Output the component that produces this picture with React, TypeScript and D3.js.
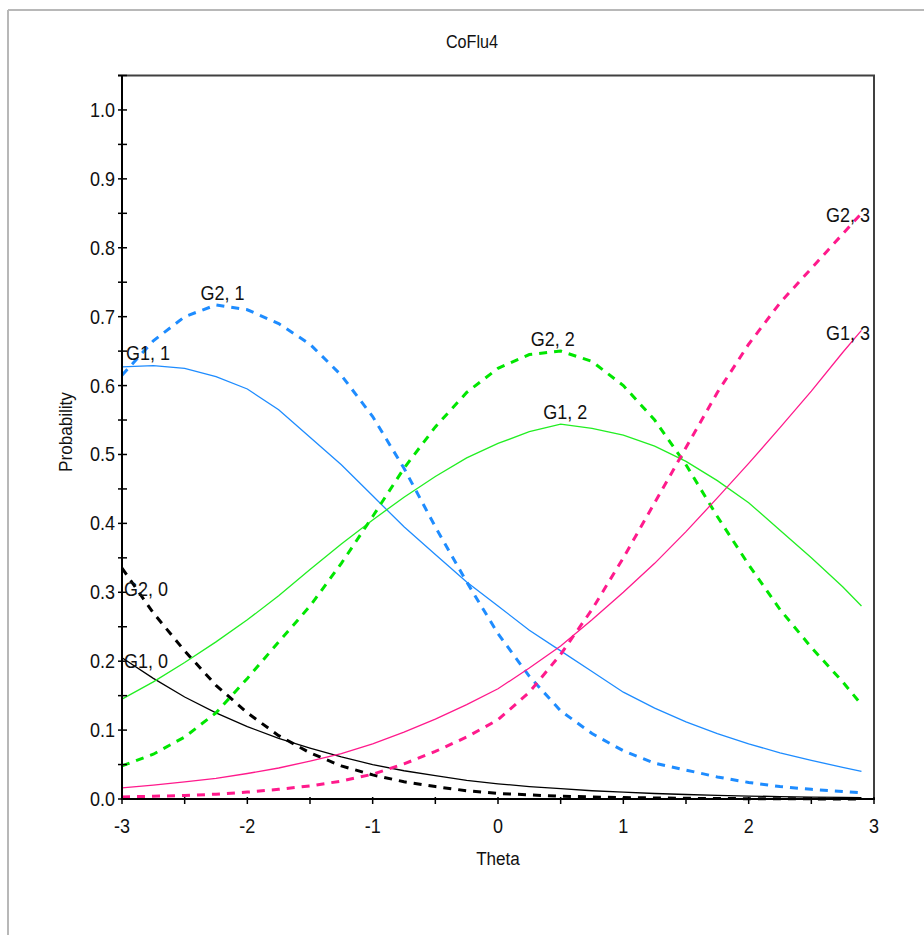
import React from "react";
import * as d3 from "d3";

const title = "CoFlu4";
const xLabel = "Theta";
const yLabel = "Probability";

const thetas = [-3, -2.75, -2.5, -2.25, -2, -1.75, -1.5, -1.25, -1, -0.75, -0.5, -0.25, 0, 0.25, 0.5, 0.75, 1, 1.25, 1.5, 1.75, 2, 2.25, 2.5, 2.75, 2.9];

const seriesNames = ["G1, 0", "G2, 0", "G1, 1", "G2, 1", "G1, 2", "G2, 2", "G1, 3", "G2, 3"];

const g1_0 = [0.205, 0.175, 0.148, 0.125, 0.105, 0.088, 0.074, 0.061, 0.05, 0.041, 0.034, 0.027, 0.022, 0.018, 0.015, 0.012, 0.01, 0.008, 0.0065, 0.0053, 0.0043, 0.0035, 0.0028, 0.0023, 0.002];
const g2_0 = [0.335, 0.27, 0.215, 0.165, 0.125, 0.092, 0.067, 0.048, 0.035, 0.025, 0.018, 0.012, 0.008, 0.006, 0.004, 0.003, 0.002, 0.0015, 0.001, 0.0007, 0.0005, 0.0003, 0.0002, 0.0001, 0.0001];
const g1_1 = [0.627, 0.629, 0.625, 0.613, 0.595, 0.565, 0.525, 0.485, 0.44, 0.395, 0.355, 0.315, 0.28, 0.245, 0.215, 0.185, 0.155, 0.132, 0.112, 0.095, 0.08, 0.067, 0.056, 0.046, 0.04];
const g2_1 = [0.615, 0.665, 0.7, 0.717, 0.71, 0.69, 0.66, 0.615, 0.555, 0.48, 0.395, 0.315, 0.24, 0.178, 0.128, 0.095, 0.07, 0.052, 0.042, 0.032, 0.024, 0.018, 0.014, 0.011, 0.009];
const g1_2 = [0.145, 0.17, 0.198, 0.228, 0.26, 0.295, 0.333, 0.37, 0.405, 0.438, 0.468, 0.495, 0.516, 0.533, 0.544, 0.538, 0.528, 0.512, 0.49, 0.462, 0.43, 0.39, 0.35, 0.308, 0.28];
const g2_2 = [0.048, 0.065, 0.09, 0.125, 0.175, 0.228, 0.28, 0.342, 0.41, 0.48, 0.54, 0.59, 0.625, 0.645, 0.65, 0.635, 0.6, 0.55, 0.485, 0.41, 0.34, 0.275, 0.22, 0.17, 0.137];
const g1_3 = [0.016, 0.02, 0.025, 0.03, 0.037, 0.045, 0.055, 0.066, 0.08, 0.097, 0.116, 0.137, 0.16, 0.19, 0.222, 0.26, 0.3, 0.342, 0.388, 0.437, 0.487, 0.539, 0.592, 0.648, 0.68];
const g2_3 = [0.003, 0.004, 0.005, 0.007, 0.01, 0.014, 0.019, 0.026, 0.036, 0.051, 0.069, 0.09, 0.115, 0.155, 0.21, 0.275, 0.35, 0.43, 0.51, 0.59, 0.66, 0.72, 0.77, 0.82, 0.85];

const seriesValues = [g1_0, g2_0, g1_1, g2_1, g1_2, g2_2, g1_3, g2_3];
const seriesColors = ["#000000", "#000000", "#1E8CFF", "#1E8CFF", "#22EE22", "#00E600", "#FF1A8C", "#FF1A8C"];
const seriesDashed = [false, true, false, true, false, true, false, true];

const yTickLabels = ["0.0", "0.1", "0.2", "0.3", "0.4", "0.5", "0.6", "0.7", "0.8", "0.9", "1.0"];
const xTickLabels = ["-3", "-2", "-1", "0", "1", "2", "3"];

const W = 924;
const H = 935;
const FONT = "'Liberation Sans', Arial, sans-serif";

function T(props: { x: number; y: number; anchor?: string; rotate?: number; size?: number; dy?: string; children: React.ReactNode }) {
  const { x, y, anchor = "middle", rotate = 0, size = 20, dy, children } = props;
  return (
    <text
      transform={`translate(${x},${y})${rotate ? ` rotate(${rotate})` : ""} scale(0.9,1)`}
      fontSize={size}
      textAnchor={anchor}
      dy={dy}
      fill="#111"
    >
      {children}
    </text>
  );
}

export default function App() {
  const x = d3.scaleLinear().domain([-3, 3]).range([122, 874]);
  const y = d3.scaleLinear().domain([0, 1.05]).range([799, 75.5]);
  const line = d3
    .line<number>()
    .x((_, i) => x(thetas[i]))
    .y((v) => y(v));

  const minorY = d3.range(0, 1.05 + 1e-9, 0.05);
  const minorX = d3.range(-3, 3 + 1e-9, 0.5);

  const labelW = 48;
  const interp = (vals: number[], t: number) => {
    for (let i = 0; i < thetas.length - 1; i++) {
      if (t >= thetas[i] && t <= thetas[i + 1]) {
        const f = (t - thetas[i]) / (thetas[i + 1] - thetas[i]);
        return vals[i] + f * (vals[i + 1] - vals[i]);
      }
    }
    return t < thetas[0] ? vals[0] : vals[vals.length - 1];
  };
  const labels = seriesValues.map((vals, si) => {
    const im = d3.maxIndex(vals);
    let tm = thetas[im];
    if (im > 0 && im < vals.length - 1) {
      const a = vals[im - 1], b = vals[im], c = vals[im + 1];
      const den = a - 2 * b + c;
      if (den !== 0) tm = thetas[im] + (0.5 * (a - c) / den) * (thetas[im + 1] - thetas[im]);
    }
    let cx = x(tm);
    cx = Math.max(122 + labelW / 2, Math.min(872 - labelW / 2, cx));
    const v = interp(vals, x.invert(cx));
    return { name: seriesNames[si], cx, cy: y(v) - 6 };
  });

  return (
    <svg
      width={W}
      height={H}
      style={{ position: "absolute", left: 0, top: 0, background: "#fff" }}
      fontFamily={FONT}
    >
      <rect x={0} y={0} width={W} height={H} fill="#fff" />
      <line x1={8} y1={10} x2={W} y2={10} stroke="#b8b8b8" strokeWidth={2} />
      <line x1={8} y1={10} x2={8} y2={H} stroke="#b8b8b8" strokeWidth={2} />

      <T x={472} y={48} size={18}>{title}</T>

      <line x1={118} y1={y(1.05)} x2={875} y2={y(1.05)} stroke="#404040" strokeWidth={2} />
      <line x1={874} y1={y(1.05)} x2={874} y2={800} stroke="#404040" strokeWidth={2} />

      {seriesValues.map((vals, i) => (
        <path
          key={i}
          d={line(vals) || ""}
          fill="none"
          stroke={seriesColors[i]}
          strokeWidth={seriesDashed[i] ? 3 : 1.3}
          strokeDasharray={seriesDashed[i] ? "8 7" : undefined}
        />
      ))}

      <line x1={122} y1={y(1.05)} x2={122} y2={800} stroke="#000" strokeWidth={2} />
      <line x1={121} y1={799} x2={875} y2={799} stroke="#000" strokeWidth={2} />
      {minorY.map((v, i) => (
        <line key={"yt" + i} x1={118} x2={127} y1={y(v)} y2={y(v)} stroke="#000" strokeWidth={1.5} />
      ))}
      {minorX.map((v, i) => (
        <line key={"xt" + i} x1={x(v)} x2={x(v)} y1={797} y2={804} stroke="#000" strokeWidth={1.5} />
      ))}
      {yTickLabels.map((t, i) => (
        <T key={"yl" + i} x={115} y={y(+t)} dy="0.35em" anchor="end">{t}</T>
      ))}
      {xTickLabels.map((t, i) => (
        <T key={"xl" + i} x={x(+t)} y={826} dy="0.35em">{t}</T>
      ))}
      <T x={498} y={858} dy="0.35em" size={19}>{xLabel}</T>
      <T x={65} y={432} dy="0.35em" rotate={-90} size={19}>{yLabel}</T>

      {labels.map((l, i) => (
        <T key={"lab" + i} x={l.cx} y={l.cy}>{l.name}</T>
      ))}
    </svg>
  );
}
